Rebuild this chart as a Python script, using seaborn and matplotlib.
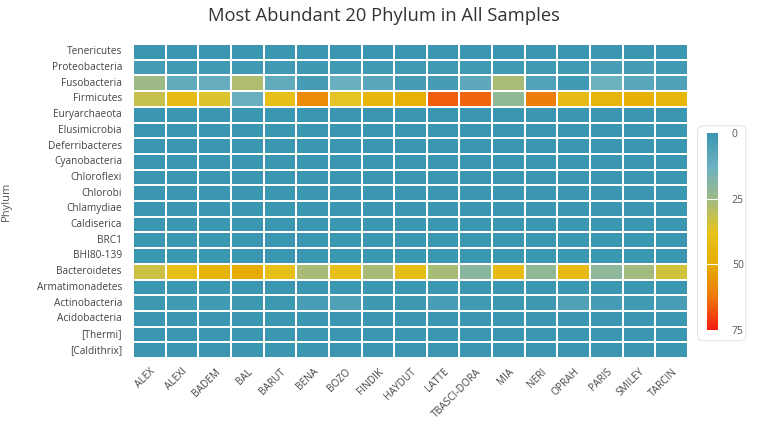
import numpy as np
import pandas as pd
import seaborn as sns
import matplotlib.pyplot as plt
from matplotlib.colors import LinearSegmentedColormap
from matplotlib.patches import FancyBboxPatch

samples = ["ALEX", "ALEXI", "BADEM", "BAL", "BARUT", "BENA", "BOZO", "FINDIK", "HAYDUT",
           "LATTE", "TBASCI-DORA", "MIA", "NERI", "OPRAH", "PARIS", "SMILEY", "TARCIN"]
phyla = ["Tenericutes", "Proteobacteria", "Fusobacteria", "Firmicutes", "Euryarchaeota",
         "Elusimicrobia", "Deferribacteres", "Cyanobacteria", "Chloroflexi", "Chlorobi",
         "Chlamydiae", "Caldiserica", "BRC1", "BHI80-139", "Bacteroidetes",
         "Armatimonadetes", "Actinobacteria", "Acidobacteria", "[Thermi]", "[Caldithrix]"]

tenericutes     = [0.5, 0.5, 0.5, 0.5, 0.5, 0.5, 0.5, 0.5, 0.5, 0.5, 0.5, 0.5, 0.5, 0.5, 0.5, 0.5, 0.5]
proteobacteria  = [3, 2, 2, 2, 2, 1.5, 2, 2, 2, 2, 2, 2, 2, 2, 4, 3, 2]
fusobacteria    = [25, 10, 11, 28, 10, 3, 12, 8, 3, 3, 9, 27, 6, 2, 13, 8, 5]
firmicutes      = [32, 42, 36, 12, 40, 58, 37, 45, 47, 66, 65, 22, 61, 42, 46, 48, 45]
bacteroidetes   = [33, 40, 46, 50, 40, 27, 40, 27, 41, 27, 20, 42, 22, 42, 21, 26, 34]
actinobacteria  = [1, 2, 2, 1, 1, 4, 5, 1.5, 1, 4, 2, 1, 1.5, 5, 3, 2, 4]
near_zero       = [0.2] * len(samples)

rows = {p: near_zero for p in phyla}
rows.update({"Tenericutes": tenericutes, "Proteobacteria": proteobacteria,
             "Fusobacteria": fusobacteria, "Firmicutes": firmicutes,
             "Bacteroidetes": bacteroidetes, "Actinobacteria": actinobacteria})
df = pd.DataFrame([rows[p] for p in phyla], index=phyla, columns=samples)

cmap = LinearSegmentedColormap.from_list("abund", [
    (0.0, "#3a96b1"), (0.17, "#6cb1c0"), (0.33, "#9cba88"), (0.5, "#e6c420"),
    (0.67, "#e6ac00"), (0.83, "#ee7a0c"), (1.0, "#f41c10")])

plt.rcParams["font.family"] = ["Open Sans", "DejaVu Sans"]
fig = plt.figure(figsize=(7.67, 4.26), dpi=100)
ax = fig.add_axes([0.1734, 0.1596, 0.7236, 0.7371])
cax = fig.add_axes([0.9218, 0.2254, 0.0143, 0.4624])

sns.heatmap(df, ax=ax, cbar_ax=cax, cmap=cmap, vmin=0, vmax=75,
            linewidths=1.4, linecolor="white",
            cbar_kws={"ticks": [0, 25, 50, 75]})

fig.text(0.5, 0.962, "Most Abundant 20 Phylum in All Samples", fontsize=13.2,
         color="#333333", ha="center", va="center")
ax.set_ylabel("Phylum", fontsize=8, color="#555555")
ax.set_xlabel("")
ax.tick_params(length=0, labelsize=7.3, labelcolor="#444444", pad=8)
ax.set_yticklabels(phyla, rotation=0)
ax.set_xticklabels(samples, rotation=45, ha="right", rotation_mode="anchor")
ax.tick_params(axis="x", pad=6)
ax.yaxis.set_label_coords(-0.218, 0.5)

cax.invert_yaxis()
cax.tick_params(length=0, labelsize=7.5, labelcolor="#555555", pad=10)
for s in cax.spines.values():
    s.set_visible(False)
for v in [25, 50]:
    cax.axhline(v, color="white", lw=0.8)

box = FancyBboxPatch((0.9095, 0.20), 0.063, 0.505, boxstyle="round,pad=0,rounding_size=0.01",
                     transform=fig.transFigure, facecolor="white", edgecolor="#e4e4e4",
                     lw=0.8, zorder=-1)
fig.patches.append(box)

fig.savefig("out.png", dpi=100)
